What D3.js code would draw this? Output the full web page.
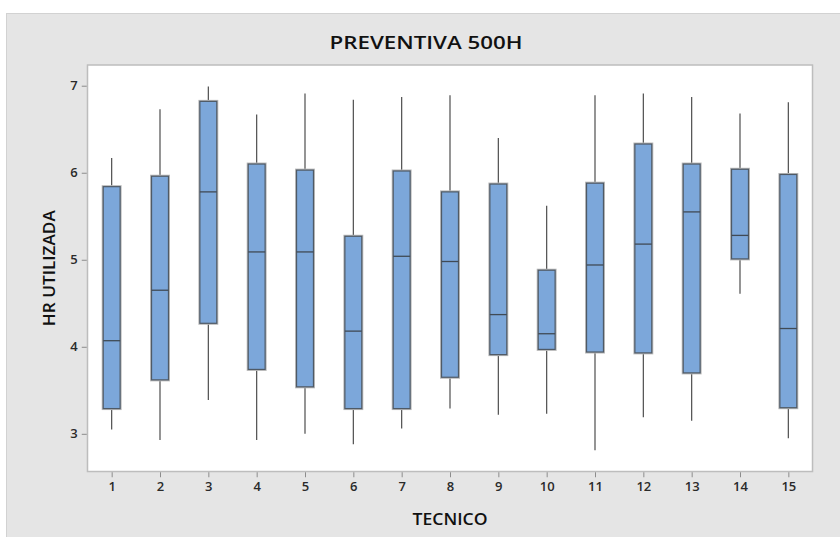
<!DOCTYPE html>
<html>
<head>
<meta charset="utf-8">
<script src="https://cdn.jsdelivr.net/npm/d3@7"></script>
<style>
  html, body { margin: 0; padding: 0; background: #ffffff; }
  svg { display: block; }
  text { font-family: "Open Sans", "Noto Sans", sans-serif; }
</style>
</head>
<body>
<svg id="chart" width="840" height="537"></svg>
<script>
// Técnicos and five-number summaries of HR UTILIZADA for each one
const tecnicos     = [1, 2, 3, 4, 5, 6, 7, 8, 9, 10, 11, 12, 13, 14, 15];
const whiskerLow   = [3.05, 2.93, 3.39, 2.93, 3.00, 2.88, 3.06, 3.29, 3.22, 3.23, 2.81, 3.19, 3.15, 4.61, 2.95];
const q1           = [3.29, 3.62, 4.27, 3.74, 3.54, 3.29, 3.29, 3.65, 3.91, 3.97, 3.94, 3.93, 3.70, 5.01, 3.30];
const median       = [4.07, 4.65, 5.78, 5.09, 5.09, 4.18, 5.04, 4.98, 4.37, 4.15, 4.94, 5.18, 5.55, 5.28, 4.21];
const q3           = [5.84, 5.96, 6.82, 6.10, 6.03, 5.27, 6.02, 5.78, 5.87, 4.88, 5.88, 6.33, 6.10, 6.04, 5.98];
const whiskerHigh  = [6.17, 6.73, 6.99, 6.67, 6.91, 6.84, 6.87, 6.89, 6.40, 5.62, 6.89, 6.91, 6.87, 6.68, 6.81];
const yTicks       = [3, 4, 5, 6, 7];

const title  = "PREVENTIVA 500H";
const xTitle = "TECNICO";
const yTitle = "HR UTILIZADA";

const boxes = tecnicos.map((t, i) => ({
  t, lo: whiskerLow[i], q1: q1[i], med: median[i], q3: q3[i], hi: whiskerHigh[i]
}));

const svg = d3.select("#chart");

// plot region
const plot = { left: 87.5, right: 812.5, top: 65, bottom: 471.5 };

const x = d3.scaleLinear().domain([0.5, 15.5]).range([plot.left, plot.right]);
const y = d3.scaleLinear().domain([2.567, 7.238]).range([plot.bottom, plot.top]);
const boxHalf = 0.175; // half box width, in técnico units

// grey figure panel
svg.append("rect")
  .attr("x", 6.5).attr("y", 13.5).attr("width", 840).attr("height", 530)
  .attr("fill", "#e5e5e5").attr("stroke", "#d2d2d2").attr("stroke-width", 1);

// white data area
svg.append("rect")
  .attr("x", plot.left).attr("y", plot.top)
  .attr("width", plot.right - plot.left).attr("height", plot.bottom - plot.top)
  .attr("fill", "#ffffff").attr("stroke", "#bdbdbd").attr("stroke-width", 1.5);

// axes
const yAxis = d3.axisLeft(y).tickValues(yTicks).tickSize(5).tickPadding(4).tickFormat(d3.format("d"));
const xAxis = d3.axisBottom(x).tickValues(tecnicos).tickSize(5).tickPadding(5).tickFormat(d3.format("d"));

const gy = svg.append("g").attr("transform", `translate(${plot.left - 0.75},0)`).call(yAxis);
const gx = svg.append("g").attr("transform", `translate(0,${plot.bottom + 0.75})`).call(xAxis);
[gx, gy].forEach(g => {
  g.select(".domain").remove();
  g.selectAll(".tick line").attr("stroke", "#8c8c8c");
  g.selectAll(".tick text")
    .attr("fill", "#2a2a2a")
    .style("font-size", "13px")
    .style("font-weight", "600")
    .style("font-family", "\"Open Sans\", \"Noto Sans\", sans-serif");
});

// boxes
const gb = svg.append("g");
const items = gb.selectAll("g.box").data(boxes).join("g").attr("class", "box");

// whiskers
items.append("line")
  .attr("x1", d => x(d.t)).attr("x2", d => x(d.t))
  .attr("y1", d => y(d.hi)).attr("y2", d => y(d.q3))
  .attr("stroke", "#4d4d4d").attr("stroke-width", 1.2);
items.append("line")
  .attr("x1", d => x(d.t)).attr("x2", d => x(d.t))
  .attr("y1", d => y(d.q1)).attr("y2", d => y(d.lo))
  .attr("stroke", "#4d4d4d").attr("stroke-width", 1.2);

// IQR box with a soft outline
items.append("rect")
  .attr("x", d => x(d.t - boxHalf)).attr("width", d => x(d.t + boxHalf) - x(d.t - boxHalf))
  .attr("y", d => y(d.q3)).attr("height", d => y(d.q1) - y(d.q3))
  .attr("fill", "none").attr("stroke", "#b8b8b8").attr("stroke-width", 3);
items.append("rect")
  .attr("x", d => x(d.t - boxHalf)).attr("width", d => x(d.t + boxHalf) - x(d.t - boxHalf))
  .attr("y", d => y(d.q3)).attr("height", d => y(d.q1) - y(d.q3))
  .attr("fill", "#7ca7da").attr("stroke", "#4f5a66").attr("stroke-width", 1.2);

// median
items.append("line")
  .attr("x1", d => x(d.t - boxHalf)).attr("x2", d => x(d.t + boxHalf))
  .attr("y1", d => y(d.med)).attr("y2", d => y(d.med))
  .attr("stroke", "#404a55").attr("stroke-width", 1.3);

// titles
svg.append("text")
  .attr("x", 426).attr("y", 49)
  .attr("text-anchor", "middle")
  .attr("textLength", 193).attr("lengthAdjust", "spacingAndGlyphs")
  .attr("fill", "#111111")
  .style("font-size", "18px")
  .style("font-weight", "600")
  .text(title);

svg.append("text")
  .attr("x", 450).attr("y", 524.5)
  .attr("text-anchor", "middle")
  .attr("textLength", 75).attr("lengthAdjust", "spacingAndGlyphs")
  .attr("fill", "#111111")
  .style("font-size", "17px")
  .style("font-weight", "600")
  .text(xTitle);

svg.append("text")
  .attr("transform", `translate(55,${(plot.top + plot.bottom) / 2}) rotate(-90)`)
  .attr("text-anchor", "middle")
  .attr("textLength", 116).attr("lengthAdjust", "spacingAndGlyphs")
  .attr("fill", "#111111")
  .style("font-size", "16px")
  .style("font-weight", "600")
  .text(yTitle);
</script>
</body>
</html>
